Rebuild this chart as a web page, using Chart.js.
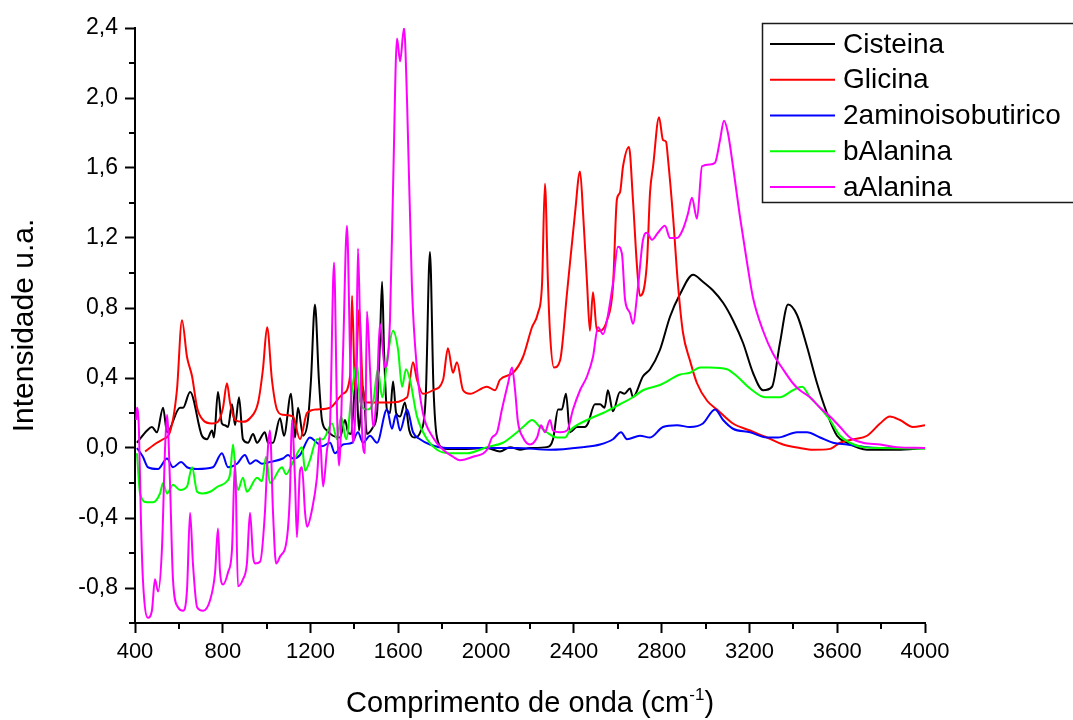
<!DOCTYPE html>
<html>
<head>
<meta charset="utf-8">
<script src="https://cdn.jsdelivr.net/npm/chart.js@4.4.0/dist/chart.umd.min.js"></script>
<style>
  html, body { margin: 0; padding: 0; background: #fff; }
  #wrap { width: 1073px; height: 720px; }
</style>
</head>
<body>
<div id="wrap"><canvas id="c" width="1073" height="720"></canvas></div>
<script>
// Axis ticks
const wavenumberTicks = [400, 800, 1200, 1600, 2000, 2400, 2800, 3200, 3600, 4000];
const intensityTicks = [-0.8, -0.4, 0.0, 0.4, 0.8, 1.2, 1.6, 2.0, 2.4];

const seriesNames = ['Cisteina', 'Glicina', '2aminoisobutirico', 'bAlanina', 'aAlanina'];
const seriesColors = ['#000000', '#ff0000', '#0000ff', '#00ff00', '#ff00ff'];

// Cisteina
const cisteinaX = [409,455,477,500,528,546,605,619,651,705,728,751,760,778,796,810,824,842,856,874,892,915,938,956,992,1006,1029,1061,1079,1111,1129,1143,1166,1188,1202,1220,1238,1252,1275,1302,1334,1357,1371,1385,1407,1421,1439,1457,1485,1503,1516,1526,1535,1548,1562,1576,1590,1608,1630,1650,1675,1700,1725,1744,1760,1776,1804,1826,1900,2004,2063,2109,2154,2200,2277,2305,2328,2345,2364,2382,2414,2450,2464,2496,2519,2540,2555,2578,2610,2630,2656,2669,2715,2747,2792,2838,2884,2943,2988,3034,3080,3125,3171,3216,3262,3303,3339,3376,3417,3462,3508,3553,3599,3645,3736,3872,4000];
const cisteinaY = [0.03,0.10,0.12,0.09,0.23,0.09,0.23,0.23,0.32,0.07,0.05,0.10,0.06,0.32,0.14,0.13,0.12,0.25,0.13,0.29,0.05,0.03,0.08,0.03,0.09,0.03,0.03,0.17,0.07,0.31,0.06,0.23,0.07,0.16,0.39,0.82,0.39,0.16,0.10,0.07,0.06,0.16,0.09,0.08,0.40,0.10,0.35,0.08,0.12,0.20,0.60,0.95,0.55,0.22,0.20,0.38,0.20,0.18,0.26,0.10,0.06,0.09,0.30,1.12,0.35,0.06,0.00,-0.005,-0.005,0.00,-0.02,0.005,-0.01,0.00,0.005,0.05,0.22,0.22,0.31,0.09,0.12,0.12,0.14,0.25,0.25,0.23,0.33,0.21,0.32,0.31,0.34,0.29,0.41,0.45,0.56,0.75,0.88,0.99,0.95,0.90,0.83,0.73,0.60,0.43,0.33,0.35,0.60,0.82,0.76,0.58,0.37,0.20,0.07,0.03,-0.01,-0.01,0.00];

// Glicina
const glicinaX = [446,500,528,559,591,614,637,660,683,710,751,778,801,819,833,856,892,924,961,983,1002,1024,1047,1074,1120,1152,1184,1229,1289,1348,1380,1389,1403,1421,1439,1457,1503,1562,1640,1667,1685,1712,1758,1804,1826,1849,1867,1895,1927,2004,2041,2063,2123,2168,2209,2236,2255,2268,2282,2291,2309,2337,2369,2405,2428,2442,2460,2473,2487,2505,2519,2551,2578,2596,2610,2624,2651,2669,2688,2701,2733,2747,2761,2788,2806,2820,2829,2852,2874,2897,2929,2961,3007,3052,3125,3203,3280,3353,3430,3490,3567,3613,3672,3736,3795,3840,3886,3945,4000];
const glicinaY = [-0.02,0.03,0.05,0.09,0.33,0.73,0.52,0.41,0.23,0.16,0.14,0.15,0.23,0.37,0.26,0.16,0.15,0.17,0.26,0.45,0.69,0.39,0.22,0.19,0.18,0.05,0.20,0.22,0.23,0.31,0.41,0.87,0.33,0.79,0.33,0.26,0.26,0.26,0.29,0.49,0.39,0.31,0.33,0.39,0.57,0.43,0.49,0.33,0.31,0.35,0.33,0.39,0.43,0.52,0.69,0.77,0.94,1.51,0.94,0.66,0.46,0.50,0.89,1.34,1.58,1.34,0.94,0.67,0.89,0.67,0.67,0.73,0.92,1.42,1.46,1.61,1.72,1.42,1.03,0.87,1.06,1.46,1.61,1.89,1.76,1.75,1.65,1.32,0.94,0.66,0.50,0.37,0.27,0.22,0.14,0.10,0.06,0.02,0.00,-0.01,-0.005,0.03,0.05,0.07,0.14,0.18,0.16,0.12,0.13];

// 2aminoisobutirico
const aminoX = [409,436,459,505,546,573,610,637,683,755,796,824,865,901,924,951,979,1015,1074,1097,1120,1152,1197,1229,1252,1289,1311,1348,1389,1416,1439,1471,1503,1548,1571,1589,1608,1640,1667,1699,1744,1822,1972,2141,2291,2442,2519,2578,2615,2642,2701,2747,2806,2870,2929,2988,3043,3080,3125,3203,3280,3330,3417,3462,3522,3581,3645,3736,3872,4000];
const aminoY = [0.00,-0.05,-0.11,-0.12,-0.06,-0.11,-0.08,-0.11,-0.12,-0.11,-0.03,-0.11,-0.09,-0.04,-0.09,-0.07,-0.09,-0.08,-0.06,-0.04,-0.06,-0.04,0.06,0.03,0.01,0.03,-0.03,0.02,0.03,0.09,0.03,0.07,0.03,0.22,0.11,0.19,0.10,0.22,0.09,0.05,0.02,0.00,0.00,0.00,-0.01,0.005,0.02,0.05,0.09,0.05,0.07,0.06,0.12,0.13,0.12,0.14,0.22,0.16,0.11,0.09,0.06,0.06,0.09,0.09,0.06,0.03,0.02,0.005,0.00,0.00];

// bAlanina
const bAlaninaX = [409,423,455,482,514,528,546,573,605,637,660,683,705,742,778,819,833,847,860,869,892,910,956,979,997,1015,1070,1088,1120,1161,1175,1197,1229,1257,1298,1321,1339,1362,1389,1412,1425,1457,1485,1507,1526,1553,1576,1599,1617,1635,1653,1685,1731,1776,1835,1913,2004,2077,2141,2177,2209,2246,2277,2323,2360,2382,2460,2533,2610,2669,2715,2792,2884,2929,2975,3020,3098,3143,3203,3271,3339,3398,3440,3476,3522,3567,3613,3658,3717,3795,4000];
const bAlaninaY = [-0.03,-0.26,-0.31,-0.31,-0.26,-0.20,-0.26,-0.21,-0.24,-0.22,-0.11,-0.25,-0.26,-0.25,-0.22,-0.19,-0.15,0.02,-0.18,-0.24,-0.17,-0.25,-0.17,-0.19,-0.05,-0.20,-0.11,-0.15,-0.08,0.005,-0.13,-0.07,0.05,0.05,0.14,0.05,0.18,0.05,0.33,0.48,0.27,0.22,0.26,0.45,0.29,0.54,0.67,0.56,0.35,0.45,0.39,0.18,0.05,-0.01,-0.03,-0.03,0.005,0.03,0.09,0.13,0.16,0.12,0.09,0.06,0.06,0.10,0.16,0.20,0.25,0.29,0.33,0.36,0.42,0.43,0.46,0.46,0.45,0.41,0.34,0.29,0.29,0.33,0.35,0.29,0.23,0.16,0.07,0.03,0.005,0.00,-0.005];

// aAlanina
const aAlaninaX = [405,409,418,427,436,459,477,491,505,523,537,546,559,573,596,619,637,651,664,683,710,742,765,778,787,801,824,842,856,869,892,910,924,938,947,970,992,1006,1015,1029,1043,1061,1093,1106,1115,1129,1138,1152,1161,1175,1184,1207,1229,1243,1257,1275,1289,1307,1321,1330,1348,1366,1380,1394,1407,1416,1425,1434,1448,1457,1471,1485,1503,1516,1539,1562,1576,1594,1608,1626,1640,1662,1685,1712,1758,1804,1849,1881,1940,2004,2027,2050,2072,2100,2118,2132,2145,2168,2200,2232,2250,2268,2291,2305,2337,2369,2396,2428,2460,2487,2510,2533,2551,2578,2601,2619,2633,2656,2669,2692,2715,2733,2756,2783,2815,2838,2870,2897,2920,2938,2961,2984,3020,3043,3066,3084,3102,3125,3157,3189,3216,3262,3307,3353,3398,3430,3476,3522,3567,3613,3658,3717,3795,3872,4000];
const aAlaninaY = [0.16,0.23,0.10,-0.41,-0.75,-0.97,-0.93,-0.75,-0.82,-0.57,0.00,0.19,-0.18,-0.75,-0.91,-0.93,-0.81,-0.37,-0.66,-0.91,-0.93,-0.87,-0.71,-0.46,-0.70,-0.78,-0.71,-0.58,-0.07,-0.79,-0.75,-0.66,-0.37,-0.62,-0.66,-0.65,-0.37,0.005,0.10,-0.37,-0.66,-0.62,-0.51,-0.26,0.16,-0.18,-0.51,-0.13,-0.11,-0.37,-0.45,-0.35,-0.17,0.06,-0.22,-0.01,0.14,1.06,0.18,-0.10,0.54,1.27,0.54,0.03,0.35,1.14,0.73,0.12,-0.03,0.78,0.45,0.12,0.35,0.71,0.46,0.73,1.49,2.34,2.21,2.40,1.97,0.92,0.45,0.20,0.06,-0.01,-0.05,-0.07,-0.05,-0.01,0.06,0.09,0.22,0.37,0.46,0.33,0.15,0.06,0.02,0.06,0.13,0.09,0.16,0.10,0.09,0.10,0.22,0.33,0.41,0.52,0.69,0.65,0.73,0.94,1.15,1.11,0.85,0.77,0.71,0.92,1.19,1.23,1.19,1.23,1.27,1.20,1.20,1.25,1.34,1.43,1.31,1.61,1.62,1.63,1.76,1.87,1.80,1.61,1.32,1.06,0.86,0.67,0.54,0.45,0.37,0.33,0.29,0.23,0.18,0.12,0.06,0.03,0.02,0.005,0.00];

const seriesX = [cisteinaX, glicinaX, aminoX, bAlaninaX, aAlaninaX];
const seriesY = [cisteinaY, glicinaY, aminoY, bAlaninaY, aAlaninaY];

const FONT = '"Liberation Sans", Arial, Helvetica, sans-serif';

const datasets = seriesNames.map((name, i) => ({
  label: name,
  data: seriesX[i].map((x, k) => ({ x: x, y: seriesY[i][k] })),
  borderColor: seriesColors[i],
  backgroundColor: seriesColors[i],
  borderWidth: 2,
  pointRadius: 0,
  fill: false,
  cubicInterpolationMode: 'monotone',
  order: seriesNames.length - i   // later series are painted over earlier ones
}));

const fmtComma = v => Number(v).toFixed(1).replace('.', ',');

// Minor ticks, axis titles and the boxed legend
const decorations = {
  id: 'decorations',
  afterDraw(chart) {
    const ctx = chart.ctx;
    const xs = chart.scales.x, ys = chart.scales.y;
    const area = chart.chartArea;
    ctx.save();
    ctx.strokeStyle = '#000';
    ctx.lineWidth = 2;
    // minor ticks halfway between major ones
    for (let i = 0; i < wavenumberTicks.length - 1; i++) {
      const v = (wavenumberTicks[i] + wavenumberTicks[i + 1]) / 2;
      const px = Math.round(xs.getPixelForValue(v));
      ctx.beginPath(); ctx.moveTo(px, area.bottom); ctx.lineTo(px, area.bottom + 6); ctx.stroke();
    }
    const yMinor = [ys.min].concat(intensityTicks.slice(0, -1).map((t, i) => (t + intensityTicks[i + 1]) / 2));
    yMinor.forEach(v => {
      const py = Math.round(ys.getPixelForValue(v));
      ctx.beginPath(); ctx.moveTo(area.left - 6, py); ctx.lineTo(area.left, py); ctx.stroke();
    });

    ctx.fillStyle = '#000';
    // y title
    ctx.save();
    ctx.translate(33, (area.top + area.bottom) / 2);
    ctx.rotate(-Math.PI / 2);
    ctx.font = '30px ' + FONT;
    ctx.textAlign = 'center';
    ctx.textBaseline = 'alphabetic';
    ctx.fillText('Intensidade u.a.', 0, 0);
    ctx.restore();

    // x title with superscript
    const base = 'Comprimento de onda (cm';
    const sup = '-1';
    const close = ')';
    ctx.textBaseline = 'alphabetic';
    ctx.textAlign = 'left';
    ctx.font = '29px ' + FONT;
    const wBase = ctx.measureText(base).width;
    const wClose = ctx.measureText(close).width;
    ctx.font = '17px ' + FONT;
    const wSup = ctx.measureText(sup).width;
    const total = wBase + wSup + wClose;
    let tx = (area.left + area.right) / 2 - total / 2;
    const ty = 712;
    ctx.font = '29px ' + FONT;
    ctx.fillText(base, tx, ty);
    ctx.font = '17px ' + FONT;
    ctx.fillText(sup, tx + wBase, ty - 12);
    ctx.font = '29px ' + FONT;
    ctx.fillText(close, tx + wBase + wSup, ty);

    // legend box
    ctx.fillStyle = '#fff';
    ctx.fillRect(762, 23, 320, 180);
    ctx.strokeStyle = '#1a1a1a';
    ctx.lineWidth = 1.5;
    ctx.strokeRect(762.5, 23.5, 330, 179);
    ctx.font = '28px ' + FONT;
    ctx.textBaseline = 'middle';
    seriesNames.forEach((name, i) => {
      const ly = 44 + i * 35.75;
      ctx.strokeStyle = seriesColors[i];
      ctx.lineWidth = 2;
      ctx.beginPath(); ctx.moveTo(770, ly); ctx.lineTo(835, ly); ctx.stroke();
      ctx.fillStyle = '#000';
      ctx.fillText(name, 843, ly + 1);
    });
    ctx.restore();
  }
};

new Chart(document.getElementById('c'), {
  type: 'line',
  data: { datasets },
  options: {
    responsive: false,
    animation: false,
    devicePixelRatio: 1,
    layout: { padding: { top: 28, right: 148, left: 0, bottom: 0 } },
    plugins: { legend: { display: false }, tooltip: { enabled: false } },
    scales: {
      x: {
        type: 'linear',
        min: 400,
        max: 4000,
        afterFit(scale) { scale.height = 97; },
        afterBuildTicks(scale) { scale.ticks = wavenumberTicks.map(v => ({ value: v })); },
        grid: { drawOnChartArea: false, drawTicks: true, tickLength: 10, tickWidth: 2, tickColor: '#000' },
        border: { display: true, color: '#000', width: 2 },
        ticks: {
          autoSkip: false, maxRotation: 0, padding: 6, color: '#000',
          font: { family: FONT, size: 22 },
          callback: v => String(v)
        }
      },
      y: {
        type: 'linear',
        min: -1.0,
        max: 2.4,
        afterFit(scale) { scale.width = 135; },
        afterBuildTicks(scale) { scale.ticks = intensityTicks.map(v => ({ value: v })); },
        grid: { drawOnChartArea: false, drawTicks: true, tickLength: 10, tickWidth: 2, tickColor: '#000' },
        border: { display: true, color: '#000', width: 2 },
        ticks: {
          autoSkip: false, padding: 7, color: '#000',
          font: { family: FONT, size: 23 },
          callback: v => fmtComma(v)
        }
      }
    }
  },
  plugins: [decorations]
});
</script>
</body>
</html>
